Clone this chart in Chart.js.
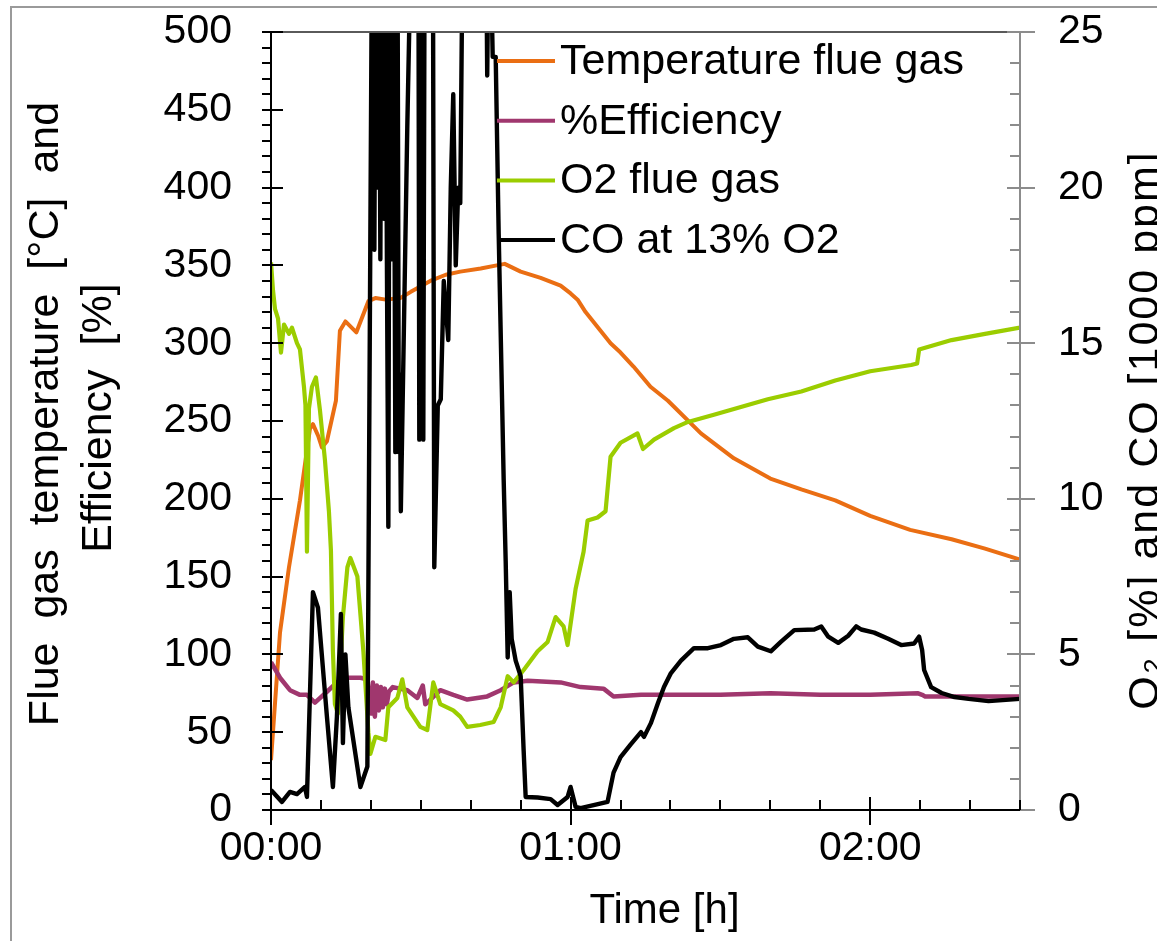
<!DOCTYPE html>
<html>
<head>
<meta charset="utf-8">
<script src="https://cdn.jsdelivr.net/npm/chart.js@4.4.0/dist/chart.umd.min.js"></script>
<style>
  html, body { margin: 0; padding: 0; background: #fff; overflow: hidden; }
  canvas { display: block; }
</style>
</head>
<body>
<canvas id="flueChart" width="1157" height="941"></canvas>
<script>
// time in minutes from start of test
const tempTime = [0, 1.8, 3.6, 5.8, 7.8, 8.4, 9.5, 10.2, 11.2, 13.0, 13.8, 14.9, 17.1, 19.5, 20.9, 23, 25.9, 28, 31.9, 35, 37.9, 42, 45.2, 46.8, 50, 54, 58, 60, 61.4, 63, 66, 68, 70, 72.6, 76, 79.5, 86.1, 92.7, 100, 106.2, 113, 120, 128, 136.3, 143, 150];
const tempValues = [32, 114, 156, 199, 245, 248, 240, 233, 237, 263, 308, 314, 307, 327, 329, 328, 329, 333, 340, 344, 346, 348, 350, 351, 346, 342, 337, 332, 328, 320, 308, 300, 294, 285, 272, 263, 242, 226, 213, 206, 199, 189, 180, 174, 168, 161];

const effTime = [0, 1.8, 3.8, 5.8, 7.2, 8.8, 11.2, 13.2, 15.2, 17.9, 19.3, 20.0, 20.4, 20.8, 21.2, 21.6, 22.0, 22.4, 22.8, 23.2, 23.6, 24.4, 27.3, 29.3, 30.4, 30.9, 31.3, 33.9, 36.5, 39.3, 43.3, 46.0, 48.6, 51.4, 58.0, 62.0, 66.6, 68.6, 74.1, 80, 90, 100, 110, 120, 129.6, 130.4, 131, 140, 150];
const effValues = [95, 85, 77, 74, 74, 69, 76, 82, 85, 85, 84, 62, 82, 60, 80, 64, 79, 66, 78, 68, 76, 79, 77, 72, 80, 68, 69, 77, 74, 71, 73, 77, 82, 83, 82, 79, 78, 73, 74, 74, 74, 75, 74, 74, 75, 74, 73, 73, 73];

const o2Time = [0, 0.4, 0.8, 1.4, 2.0, 2.6, 3.6, 4.2, 5.2, 5.8, 6.6, 6.9, 7.2, 7.6, 8.2, 9.0, 9.8, 10.8, 11.6, 12.0, 12.4, 12.8, 13.4, 14.4, 15.3, 15.9, 17.3, 18.5, 19.5, 19.9, 20.9, 22.9, 23.5, 25.3, 26.3, 27.3, 29.9, 31.3, 32.5, 33.9, 36.5, 37.9, 39.3, 41.9, 44.6, 46.0, 47.4, 48.6, 50.6, 53.4, 55.4, 57.0, 58.6, 59.4, 61.0, 62.6, 63.4, 65.4, 67.0, 68.0, 70.0, 73.4, 74.5, 76.7, 80.7, 83.5, 88.7, 94.1, 99.5, 106.2, 113, 120, 128.2, 129.4, 129.8, 136.3, 143, 150];
const o2Values = [17.6, 16.7, 16.1, 15.8, 14.7, 15.6, 15.3, 15.5, 15.0, 14.8, 13.6, 13.0, 8.3, 12.9, 13.6, 13.9, 12.85, 11.25, 9.6, 8.35, 5.1, 3.4, 3.1, 6.2, 7.8, 8.1, 7.5, 5.1, 2.5, 1.8, 2.35, 2.25, 3.3, 3.6, 4.2, 3.3, 2.67, 2.57, 4.1, 3.4, 3.2, 3.0, 2.67, 2.73, 2.83, 3.3, 4.3, 4.1, 4.5, 5.1, 5.4, 6.2, 5.9, 5.3, 7.1, 8.3, 9.3, 9.4, 9.6, 11.35, 11.8, 12.1, 11.6, 11.9, 12.27, 12.47, 12.7, 12.95, 13.2, 13.45, 13.8, 14.1, 14.3, 14.35, 14.8, 15.1, 15.3, 15.5];

// CO in 1000 ppm, values above 25 run off the top of the axis
const coTime = [0, 2.2, 3.8, 5.2, 6.8, 7.2, 8.4, 9.4, 11.2, 12.4, 13.2, 14.0, 14.4, 14.9, 15.5, 17.9, 19.3, 20.3, 20.7, 21.0, 21.3, 21.6, 21.9, 22.2, 22.6, 22.9, 23.2, 23.5, 23.8, 24.2, 24.5, 24.9, 25.3, 25.6, 25.8, 26.0, 27.3, 28.3, 29.5, 29.7, 30.1, 30.5, 30.8, 32.4, 32.7, 33.4, 34.0, 34.6, 35.5, 36.0, 36.5, 37.0, 37.5, 37.9, 38.5, 43.0, 43.3, 43.7, 44.4, 45.0, 45.6, 46.6, 47.0, 47.4, 47.8, 48.2, 49.0, 50.0, 50.6, 51.0, 53.4, 56.0, 57.4, 59.4, 60.0, 61.0, 62.0, 64.6, 67.4, 68.6, 70.0, 72.0, 74.1, 74.7, 76.1, 77.5, 78.7, 80.1, 82.1, 84.7, 87.5, 90.1, 92.7, 95.5, 97.5, 100.1, 102.1, 104.8, 108.8, 110.2, 111.6, 113.6, 115.6, 117.2, 118.2, 120.8, 123.6, 126.2, 128.8, 129.8, 130.4, 130.8, 132.2, 134.3, 136.9, 139.7, 143.7, 150];
const coValues = [0.64, 0.26, 0.58, 0.51, 0.74, 0.42, 7.0, 6.5, 3.0, 0.74, 3.0, 6.3, 2.15, 5.0, 3.3, 0.74, 1.4, 30, 18, 30, 20, 30, 17.7, 30, 19, 30, 18, 9.1, 30, 17.7, 30, 11.5, 30, 11.5, 14, 9.6, 22, 30, 30, 11.9, 30, 11.9, 30, 30, 7.8, 13, 13.2, 17, 15.1, 20, 23, 17.5, 20, 19.5, 30, 30, 23.6, 30, 24.2, 24.2, 18.5, 10.6, 8.0, 4.9, 7.0, 5.5, 4.8, 4.3, 1.9, 0.42, 0.4, 0.35, 0.16, 0.42, 0.74, 0.1, 0.06, 0.16, 0.26, 1.2, 1.7, 2.1, 2.5, 2.35, 2.8, 3.44, 3.95, 4.4, 4.8, 5.2, 5.2, 5.3, 5.5, 5.55, 5.25, 5.1, 5.4, 5.78, 5.8, 5.9, 5.57, 5.37, 5.6, 5.9, 5.8, 5.7, 5.5, 5.3, 5.35, 5.57, 5.14, 4.5, 3.95, 3.76, 3.63, 3.57, 3.5, 3.57];

const seriesNames = ['Temperature flue gas', '%Efficiency', 'O2 flue gas', 'CO at 13% O2'];
const timeTicks = [0, 60, 120];

const FONT = "'Liberation Sans', Arial, sans-serif";

function pairs(t, v) {
  return t.map((x, i) => ({ x: x, y: v[i] }));
}

function hhmm(m) {
  const h = Math.floor(m / 60), mm = m % 60;
  return String(h).padStart(2, '0') + ':' + String(mm).padStart(2, '0');
}

// fixed axis box, without the label overflow padding chart.js would add
function fixBox(size) {
  return s => {
    if (s.isHorizontal()) s.height = size; else s.width = size;
    s.paddingTop = 0;
    s.paddingBottom = 0;
    s.paddingLeft = 0;
    s.paddingRight = 0;
  };
}

// axes frame, tick marks, titles and legend drawn the way the original figure has them
const figureDecor = {
  id: 'figureDecor',
  beforeDraw(chart) {
    const ctx = chart.ctx;
    ctx.save();
    ctx.strokeStyle = '#9a9a9a';
    ctx.lineWidth = 2;
    ctx.beginPath();
    ctx.moveTo(11, 941);
    ctx.lineTo(11, 7);
    ctx.lineTo(1157, 7);
    ctx.stroke();
    ctx.restore();
  },
  afterDraw(chart) {
    const ctx = chart.ctx;
    const { left, right, top, bottom } = chart.chartArea;
    const xs = chart.scales.x, yl = chart.scales.y, yr = chart.scales.y2;

    function seg(x1, y1, x2, y2) {
      ctx.beginPath();
      ctx.moveTo(x1, y1);
      ctx.lineTo(x2, y2);
      ctx.stroke();
    }

    ctx.save();
    ctx.lineWidth = 2;

    // top and right frame
    ctx.strokeStyle = '#5a5a5a';
    seg(left, top, right, top);
    ctx.strokeStyle = '#8c8c8c';
    seg(right, top, right, bottom);
    for (let v = 0; v <= 25; v += 1) {
      const py = Math.round(yr.getPixelForValue(v));
      if (v % 5 === 0) seg(right - 13, py, right + 15, py);
      else seg(right - 10, py, right, py);
    }

    // left and bottom axes
    ctx.strokeStyle = '#000';
    seg(left, top, left, bottom);
    seg(left, bottom, right, bottom);
    for (let v = 0; v <= 500; v += 10) {
      const py = Math.round(yl.getPixelForValue(v));
      if (v % 50 === 0) seg(left - 9, py, left + 12, py);
      else seg(left - 9, py, left, py);
    }
    for (let m = 0; m <= 150; m += 10) {
      const px = Math.round(xs.getPixelForValue(m));
      if (m % 60 === 0) seg(px, bottom - 13, px, bottom + 15);
      else seg(px, bottom - 10, px, bottom);
    }

    // axis titles
    ctx.fillStyle = '#000';
    ctx.textAlign = 'center';
    ctx.textBaseline = 'alphabetic';
    ctx.font = '43px ' + FONT;
    ctx.save();
    ctx.translate(58, 414);
    ctx.rotate(-Math.PI / 2);
    ctx.fillText('Flue  gas  temperature  [°C]  and', 0, 0);
    ctx.restore();
    ctx.save();
    ctx.translate(111, 418);
    ctx.rotate(-Math.PI / 2);
    ctx.fillText('Efficiency  [%]', 0, 0);
    ctx.restore();
    ctx.save();
    ctx.translate(1158, 430);
    ctx.rotate(-Math.PI / 2);
    ctx.letterSpacing = '2px';
    ctx.fillText('O\u2082 [%] and CO [1000 ppm]', 0, 0);
    ctx.letterSpacing = '0px';
    ctx.restore();
    ctx.font = '42px ' + FONT;
    ctx.fillText('Time [h]', (left + right) / 2 + 19, 923);

    // legend inside plot
    ctx.font = '43px ' + FONT;
    ctx.textAlign = 'left';
    ctx.textBaseline = 'middle';
    chart.data.datasets.forEach((ds, i) => {
      const y = 61 + i * 59.7;
      ctx.strokeStyle = ds.borderColor;
      ctx.lineWidth = 4;
      seg(497, y, 555, y);
      ctx.fillStyle = '#000';
      ctx.fillText(ds.label, 560, y + 1);
    });
    ctx.restore();
  }
};

new Chart(document.getElementById('flueChart'), {
  type: 'line',
  data: {
    datasets: [
      { label: seriesNames[0], data: pairs(tempTime, tempValues), yAxisID: 'y', borderColor: '#EA6E13', borderWidth: 4, order: 3 },
      { label: seriesNames[1], data: pairs(effTime, effValues), yAxisID: 'y', borderColor: '#A0376E', borderWidth: 4.5, order: 2 },
      { label: seriesNames[2], data: pairs(o2Time, o2Values), yAxisID: 'y2', borderColor: '#9BCD00', borderWidth: 4.2, order: 1 },
      { label: seriesNames[3], data: pairs(coTime, coValues), yAxisID: 'y2', borderColor: '#000000', borderWidth: 4.4, order: 0 }
    ]
  },
  options: {
    responsive: false,
    animation: false,
    devicePixelRatio: 1,
    layout: { padding: { top: 32, left: 0, right: 0, bottom: 0 } },
    elements: { point: { radius: 0 }, line: { tension: 0, borderJoinStyle: 'round' } },
    plugins: { legend: { display: false }, tooltip: { enabled: false } },
    scales: {
      x: {
        type: 'linear',
        min: 0,
        max: 150,
        grid: { display: false, drawTicks: false },
        border: { display: false },
        afterBuildTicks: s => { s.ticks = timeTicks.map(v => ({ value: v })); },
        afterFit: fixBox(131),
        ticks: { color: '#000', padding: 14, maxRotation: 0, font: { family: FONT, size: 41 }, callback: v => hhmm(v) }
      },
      y: {
        position: 'left',
        min: 0,
        max: 500,
        grid: { display: false, drawTicks: false },
        border: { display: false },
        afterFit: fixBox(271),
        ticks: { stepSize: 50, color: '#000', padding: 39, font: { family: FONT, size: 41 } }
      },
      y2: {
        position: 'right',
        min: 0,
        max: 25,
        grid: { display: false, drawTicks: false },
        border: { display: false },
        afterFit: fixBox(137),
        ticks: { stepSize: 5, color: '#000', padding: 38, font: { family: FONT, size: 41 } }
      }
    }
  },
  plugins: [figureDecor]
});
</script>
</body>
</html>
